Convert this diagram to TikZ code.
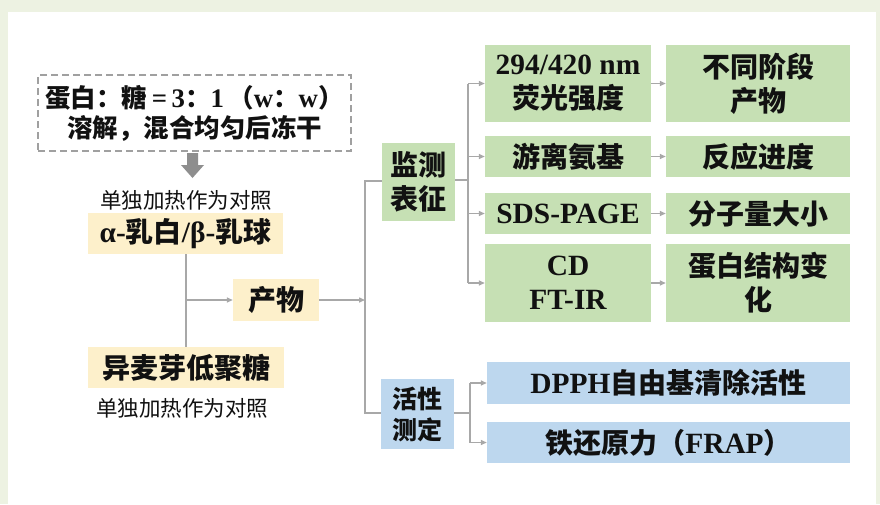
\documentclass[tikz,border=0pt]{standalone}
\usepackage{fontspec}
\setmainfont{Liberation Serif}[Scale=1.05]
\newfontfamily\cjk{Noto Sans CJK SC}
\newfontfamily\lat{Liberation Serif}[Scale=1.05]
\usetikzlibrary{arrows.meta}
\definecolor{gfill}{HTML}{C6E0B4}
\definecolor{bfill}{HTML}{BDD7EE}
\definecolor{yfill}{HTML}{FDF0CB}
\definecolor{lgray}{HTML}{A8A8A8}
\definecolor{dgray}{HTML}{A0A0A0}
\definecolor{agray}{HTML}{8E8E8E}
\definecolor{bg}{HTML}{EDF2E2}
\definecolor{ink}{HTML}{111111}
\begin{document}
\begin{tikzpicture}[x=1pt,y=-1pt,
  box/.style={inner sep=0pt, align=center, text=ink, font=\bfseries\fontsize{28}{34}\selectfont},
  gbox/.style={box, fill=gfill},
  bbox/.style={box, fill=bfill},
  ybox/.style={box, fill=yfill},
  note/.style={inner sep=0pt, text=ink, font=\cjk\fontsize{21.5}{26}\selectfont},
  conn/.style={draw=lgray, line width=1.4pt},
  arr/.style={conn, -{Triangle[length=6pt,width=5pt]}}]
\useasboundingbox (0,0) rectangle (880,504);
\fill[bg] (0,0) rectangle (880,504);
\fill[white] (8,12) rectangle (876,504);

% left part
\node[box, draw=dgray, line width=1.3pt, dash pattern=on 7pt off 4pt,
      minimum width=313pt, minimum height=76pt, font=\bfseries\fontsize{25.5}{30}\selectfont] (dash) at (194.5,113)
  {{\cjk 蛋白：糖}\,{\lat =\,3}{\cjk ：}{\lat 1}\,{\cjk （}{\lat w}{\cjk ：}{\lat w}{\cjk ）}\\{\cjk 溶解，混合均匀后冻干}};
\node[note] (ctrl1) at (186,200) {单独加热作为对照};
\fill[agray] (187,153) -- (198,153) -- (198,165) -- (204,165) -- (192.5,178) -- (181,165) -- (187,165) -- cycle;
\node[ybox, minimum width=195pt, minimum height=41pt] (pro) at (185.5,233.5) {{\lat α-}{\cjk 乳白}{\lat /β-}{\cjk 乳球}};
\node[ybox, minimum width=86pt, minimum height=42pt] (prod) at (276,300) {\cjk 产物};
\node[ybox, minimum width=196pt, minimum height=41pt] (sug) at (186,367.5) {\cjk 异麦芽低聚糖};
\node[note] (ctrl2) at (182,408) {单独加热作为对照};

\draw[conn] (pro.south -| 186,0) -- (sug.north -| 186,0);
\coordinate (j1) at (186,300);
\draw[arr] (j1) -- (prod.west);
\coordinate (t0) at (365,300);
\coordinate (ttop) at (365,181);
\coordinate (tbot) at (365,413);
\draw[arr] (prod.east) -- (t0);

% middle
\node[gbox, minimum width=73pt, minimum height=78pt] (mon) at (418.5,182) {\cjk 监测\\\cjk 表征};
\node[bbox, minimum width=73pt, minimum height=70pt, font=\bfseries\fontsize{25}{31}\selectfont] (act) at (417.5,414) {\cjk 活性\\\cjk 测定};
\draw[conn] (mon.west |- ttop) -- (ttop) -- (tbot) -- (act.west |- tbot);

% right green
\node[gbox, minimum width=166pt, minimum height=77pt] (r1a) at (568,83.5) {294/420 nm\\\cjk 荧光强度};
\node[gbox, minimum width=166pt, minimum height=41pt] (r2a) at (568,156.5) {\cjk 游离氨基};
\node[gbox, minimum width=166pt, minimum height=41pt] (r3a) at (568,213.5) {SDS-PAGE};
\node[gbox, minimum width=166pt, minimum height=78pt] (r4a) at (568,283) {CD\\FT-IR};
\node[gbox, minimum width=184pt, minimum height=77pt] (r1b) at (758,83.5) {\cjk 不同阶段\\\cjk 产物};
\node[gbox, minimum width=184pt, minimum height=41pt] (r2b) at (758,156.5) {\cjk 反应进度};
\node[gbox, minimum width=184pt, minimum height=41pt] (r3b) at (758,213.5) {\cjk 分子量大小};
\node[gbox, minimum width=184pt, minimum height=78pt] (r4b) at (758,283) {\cjk 蛋白结构变\\\cjk 化};

\coordinate (m1) at (468,180);
\draw[conn] (mon.east |- m1) -- (m1);
\draw[conn] (468,83.5) -- (468,283);
\foreach \r in {r1a,r2a,r3a,r4a} {\draw[arr] (\r.west -| m1) -- (\r.west);}
\foreach \a/\b in {r1a/r1b,r2a/r2b,r3a/r3b,r4a/r4b} {\draw[arr] (\a.east) -- (\b.west);}

% right blue
\node[bbox, minimum width=363pt, minimum height=42pt] (b1) at (668.5,383) {DPPH{\cjk 自由基清除活性}};
\node[bbox, minimum width=363pt, minimum height=41pt] (b2) at (668.5,442.5) {{\cjk 铁还原力（}FRAP{\cjk ）}};
\coordinate (m2) at (470,413);
\draw[conn] (act.east |- m2) -- (m2);
\draw[conn] (470,383) -- (470,442.5);
\foreach \r in {b1,b2} {\draw[arr] (\r.west -| m2) -- (\r.west);}
\end{tikzpicture}
\end{document}
